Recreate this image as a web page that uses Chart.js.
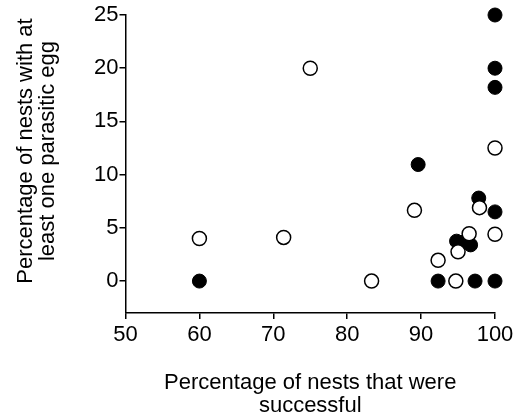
<!DOCTYPE html>
<html>
<head>
<meta charset="utf-8">
<script src="https://cdn.jsdelivr.net/npm/chart.js@4"></script>
<style>
html,body{margin:0;padding:0;background:#fff;}
#wrap{width:521px;height:418px;position:relative;}
</style>
</head>
<body>
<div id="wrap"><canvas id="c" width="521" height="418"></canvas></div>
<script>
// Data
const openX   = [60, 71.4, 75, 83.3, 89.1, 92.3, 94.7, 95.0, 96.5, 97.9, 100, 100];
const openY   = [4.0, 4.1, 20, 0, 6.65, 1.95, 0, 2.75, 4.45, 6.9, 4.4, 12.5];
const filledX = [60, 89.6, 92.3, 94.8, 95.7, 96.7, 97.3, 97.8, 100, 100, 100, 100, 100];
const filledY = [0, 10.95, 0, 3.75, 3.65, 3.4, 0, 7.8, 0, 6.5, 18.2, 20, 25];
const xTicks = [50, 60, 70, 80, 90, 100];
const yTicks = [0, 5, 10, 15, 20, 25];
const xTitle = ["Percentage of nests that were", "successful"];
const yTitle = ["Percentage of nests with at", "least one parasitic egg"];

const FONT = "Liberation Sans, Arial, sans-serif";

const toPts = (xs, ys) => xs.map((x, i) => ({x: x, y: ys[i]}));

const titlePlugin = {
  id: 'titles',
  afterDraw(chart) {
    const ctx = chart.ctx;
    const ca = chart.chartArea;
    ctx.save();
    ctx.fillStyle = '#000';
    ctx.font = '22px ' + FONT;
    ctx.textAlign = 'center';
    ctx.textBaseline = 'alphabetic';
    const cx = (ca.left + ca.right) / 2;
    ctx.fillText(xTitle[0], cx, 389);
    ctx.fillText(xTitle[1], cx, 412);
    ctx.translate(0, 151);
    ctx.rotate(-Math.PI / 2);
    ctx.fillText(yTitle[0], 0, 32);
    ctx.fillText(yTitle[1], 0, 54);
    ctx.restore();
  }
};

new Chart(document.getElementById('c'), {
  type: 'scatter',
  data: {
    datasets: [
      {
        data: toPts(openX, openY),
        pointRadius: 7,
        pointHoverRadius: 7,
        pointBackgroundColor: '#fff',
        pointBorderColor: '#000',
        pointBorderWidth: 1.5,
        clip: false
      },
      {
        data: toPts(filledX, filledY),
        pointRadius: 7,
        pointHoverRadius: 7,
        pointBackgroundColor: '#000',
        pointBorderColor: '#000',
        pointBorderWidth: 1,
        clip: false
      }
    ]
  },
  options: {
    responsive: false,
    animation: false,
    events: [],
    layout: {padding: {top: 15, right: 26, bottom: 0, left: 0}},
    plugins: {legend: {display: false}, tooltip: {enabled: false}},
    scales: {
      x: {
        type: 'linear',
        min: 50, max: 100,
        afterBuildTicks: s => { s.ticks = xTicks.map(v => ({value: v})); },
        afterFit: s => { s.height = 105; },
        grid: {display: true, drawOnChartArea: false, drawTicks: true, tickLength: 6, color: '#000', lineWidth: 1.5},
        border: {display: true, color: '#000', width: 1.5},
        ticks: {color: '#000', font: {family: FONT, size: 22}, padding: 3, maxRotation: 0}
      },
      y: {
        type: 'linear',
        min: -3, max: 25,
        afterBuildTicks: s => { s.ticks = yTicks.map(v => ({value: v})); },
        afterFit: s => { s.width = 125.5; },
        grid: {display: true, drawOnChartArea: false, drawTicks: true, tickLength: 6, color: '#000', lineWidth: 1.5},
        border: {display: true, color: '#000', width: 1.5},
        ticks: {color: '#000', font: {family: FONT, size: 22}, padding: 1}
      }
    }
  },
  plugins: [titlePlugin]
});
</script>
</body>
</html>
